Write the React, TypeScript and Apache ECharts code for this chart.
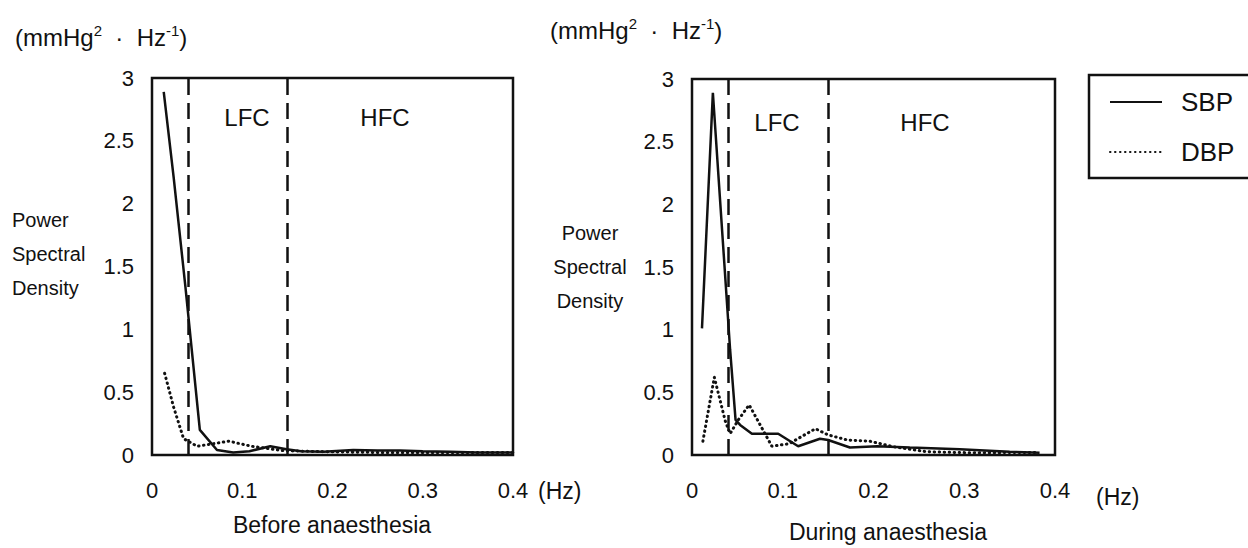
import React, { useEffect, useRef } from 'react';
import * as echarts from 'echarts';

const FONT = '"Liberation Sans", Arial, Helvetica, sans-serif';

const frequencyTicks = ['0', '0.1', '0.2', '0.3', '0.4'];
const psdTicks = ['0', '0.5', '1', '1.5', '2', '2.5', '3'];
const bandEdges = [0.04, 0.15];
const seriesNames = ['SBP', 'DBP'];
const panelTitles = ['Before anaesthesia', 'During anaesthesia'];
const bandNames = ['LFC', 'HFC'];

const beforeSBP = [
  [0.013, 2.89], [0.024, 2.21], [0.037, 1.34], [0.053, 0.2], [0.072, 0.04],
  [0.09, 0.02], [0.108, 0.03], [0.131, 0.07], [0.149, 0.045], [0.165, 0.03],
  [0.19, 0.025], [0.223, 0.04], [0.25, 0.035], [0.275, 0.035], [0.3, 0.03],
  [0.33, 0.025], [0.36, 0.02], [0.4, 0.02],
];
const beforeDBP = [
  [0.014, 0.65], [0.024, 0.38], [0.035, 0.13], [0.05, 0.07], [0.068, 0.09],
  [0.085, 0.11], [0.11, 0.07], [0.13, 0.05], [0.145, 0.035], [0.17, 0.03],
  [0.2, 0.025], [0.25, 0.02], [0.3, 0.02], [0.35, 0.02], [0.4, 0.02],
];
const duringSBP = [
  [0.011, 1.01], [0.023, 2.89], [0.042, 0.84], [0.048, 0.28], [0.053, 0.24],
  [0.066, 0.17], [0.095, 0.17], [0.117, 0.07], [0.141, 0.13], [0.15, 0.12],
  [0.174, 0.06], [0.204, 0.07], [0.24, 0.06], [0.295, 0.045], [0.35, 0.026],
  [0.383, 0.018],
];
const duringDBP = [
  [0.012, 0.11], [0.0246, 0.62], [0.0367, 0.27], [0.042, 0.17], [0.051, 0.28],
  [0.063, 0.4], [0.088, 0.07], [0.107, 0.09], [0.136, 0.21], [0.15, 0.16],
  [0.171, 0.12], [0.196, 0.11], [0.222, 0.066], [0.259, 0.026], [0.306, 0.018],
  [0.38, 0.02],
];

function txt(text: string, x: number, y: number, size: number, align = 'center', extra: any = {}) {
  return {
    type: 'text',
    x,
    y,
    silent: true,
    style: {
      text,
      fontSize: size,
      fontFamily: FONT,
      fill: '#111',
      align,
      verticalAlign: 'middle',
      ...extra,
    },
  };
}

function unitLabel(x: number, y: number) {
  return {
    type: 'text',
    x,
    y,
    silent: true,
    style: {
      text: '{n|(mmHg}{s|2}{n|  ·  Hz}{s|-1}{n|)}',
      align: 'left',
      verticalAlign: 'middle',
      rich: {
        n: { fontSize: 24, fontFamily: FONT, fill: '#111', lineHeight: 28 },
        s: { fontSize: 15, fontFamily: FONT, fill: '#111', verticalAlign: 'top' },
      },
    },
  };
}

export default function App() {
  const ref = useRef<HTMLDivElement>(null);

  useEffect(() => {
    if (!ref.current) return;
    const chart = echarts.init(ref.current, null, { renderer: 'svg' });

    const grids = [
      { left: 152, top: 78, width: 361, height: 377 },
      { left: 692, top: 79, width: 363, height: 376 },
    ];

    const xAxes = grids.map((_, i) => ({
      type: 'value',
      gridIndex: i,
      min: 0,
      max: 0.4,
      interval: 0.1,
      axisLine: { show: false },
      axisTick: { show: false },
      splitLine: { show: false },
      axisLabel: {
        margin: 24,
        fontSize: 22,
        color: '#111',
        fontFamily: FONT,
        formatter: (v: number) => frequencyTicks[Math.round(v * 10)],
      },
    }));

    const yAxes = grids.map((_, i) => ({
      type: 'value',
      gridIndex: i,
      min: 0,
      max: 3,
      interval: 0.5,
      axisLine: { show: false },
      axisTick: { show: false },
      splitLine: { show: false },
      axisLabel: {
        margin: 18,
        fontSize: 22,
        color: '#111',
        fontFamily: FONT,
        formatter: (v: number) => psdTicks[Math.round(v * 2)],
      },
    }));

    const markLine = {
      silent: true,
      symbol: ['none', 'none'],
      label: { show: false },
      lineStyle: { color: '#111', width: 2.5, type: [16, 8] },
      data: bandEdges.map((x) => ({ xAxis: x })),
    };

    const solid = { color: '#111', width: 2.5, type: 'solid' };
    const dotted = { color: '#111', width: 3, type: [0.5, 4.5], cap: 'round' };

    const panels = [
      [beforeSBP, beforeDBP],
      [duringSBP, duringDBP],
    ];

    const series: any[] = [];
    panels.forEach((pair, i) => {
      series.push({
        name: seriesNames[0],
        type: 'line',
        xAxisIndex: i,
        yAxisIndex: i,
        data: pair[0],
        symbol: 'none',
        lineStyle: solid,
        itemStyle: { color: '#111' },
        markLine,
        z: 3,
      });
      series.push({
        name: seriesNames[1],
        type: 'line',
        xAxisIndex: i,
        yAxisIndex: i,
        data: pair[1],
        symbol: 'none',
        lineStyle: dotted,
        itemStyle: { color: '#111' },
        z: 2,
      });
    });

    chart.setOption({
      animation: false,
      backgroundColor: '#fff',
      grid: grids.map((g) => ({ ...g, show: true, borderColor: '#111', borderWidth: 2.5, backgroundColor: 'transparent' })),
      xAxis: xAxes,
      yAxis: yAxes,
      series,
      legend: {
        data: seriesNames,
        orient: 'vertical',
        left: 1089,
        top: 75,
        itemWidth: 52,
        itemHeight: 14,
        itemGap: 24,
        padding: [14, 50, 13, 20],
        borderColor: '#111',
        borderWidth: 2.5,
        selectedMode: false,
        itemStyle: { opacity: 0 },
        textStyle: { fontSize: 26, fontFamily: FONT, color: '#111', padding: [0, 0, 0, 14] },
      },
      graphic: [
        unitLabel(15, 37),
        unitLabel(550, 30),
        txt('Power\nSpectral\nDensity', 12, 254, 20, 'left', { lineHeight: 34 }),
        txt('Power\nSpectral\nDensity', 590, 267, 20, 'center', { lineHeight: 34 }),
        txt(bandNames[0], 247, 117, 24),
        txt(bandNames[1], 385, 117, 24),
        txt(bandNames[0], 777, 122, 24),
        txt(bandNames[1], 925, 122, 24),
        txt('(Hz)', 538, 491, 23, 'left'),
        txt('(Hz)', 1096, 497, 23, 'left'),
        txt(panelTitles[0], 332, 525, 23),
        txt(panelTitles[1], 888, 532, 23),
      ],
    });

    return () => chart.dispose();
  }, []);

  return (
    <div
      ref={ref}
      style={{ position: 'absolute', left: 0, top: 0, width: 1248, height: 548, background: '#fff' }}
    />
  );
}
